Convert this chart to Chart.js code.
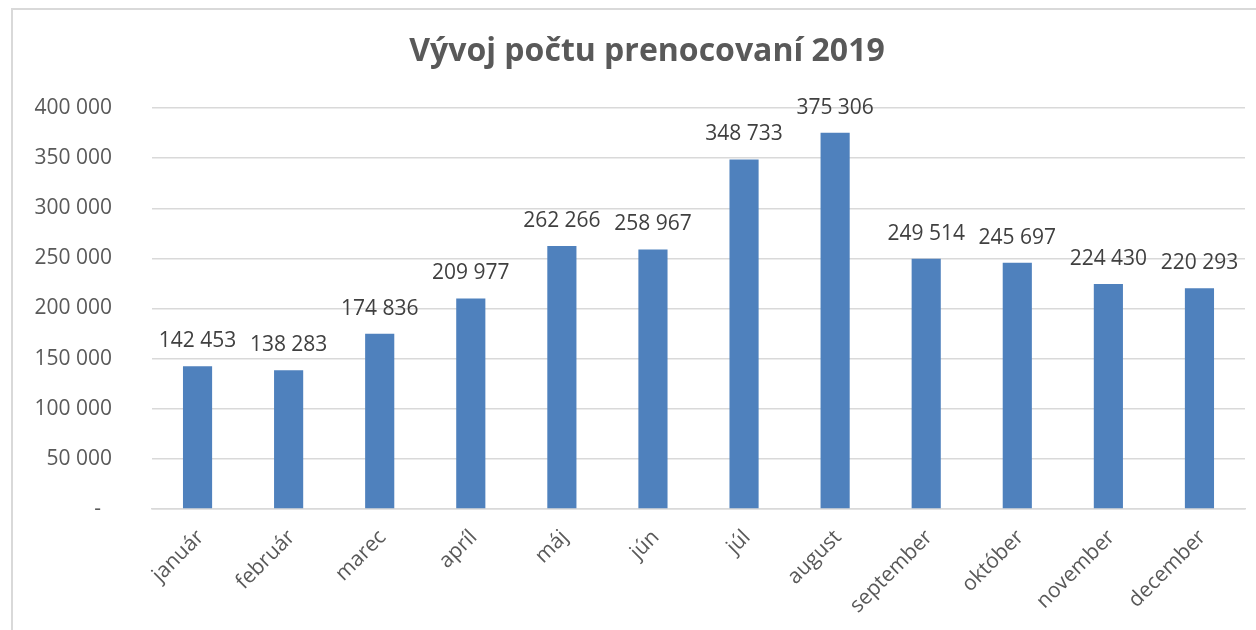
<!DOCTYPE html>
<html>
<head>
<meta charset="utf-8">
<script src="https://cdn.jsdelivr.net/npm/chart.js@4/dist/chart.umd.min.js"></script>
<style>
  html, body { margin: 0; padding: 0; background: #fff; }
  #wrap { position: relative; width: 1256px; height: 630px; }
  #frame {
    position: absolute; left: 11px; top: 8px; right: -4px; bottom: -4px;
    border-left: 2px solid #d9d9d9; border-top: 2px solid #d9d9d9;
    pointer-events: none;
  }
</style>
</head>
<body>
<div id="wrap">
  <canvas id="chart" width="1256" height="630"></canvas>
  <div id="frame"></div>
</div>
<script>
// dáta z grafu
const months = ['január', 'február', 'marec', 'apríl', 'máj', 'jún', 'júl', 'august', 'september', 'október', 'november', 'december'];
const nights = [142453, 138283, 174836, 209977, 262266, 258967, 348733, 375306, 249514, 245697, 224430, 220293];
const chartTitle = 'Vývoj počtu prenocovaní 2019';

// 142453 -> "142 453"
function fmt(v) {
    return String(v).replace(/\B(?=(\d{3})+(?!\d))/g, ' ');
}

const FONT = '"Open Sans", Lato, sans-serif';

// nadpis (posunutý trochu doprava ako v Exceli)
const titlePlugin = {
    id: 'excelTitle',
    afterDraw(chart) {
        const ctx = chart.ctx;
        ctx.save();
        ctx.font = 'bold 32px ' + FONT;
        ctx.fillStyle = '#595959';
        ctx.textAlign = 'center';
        ctx.textBaseline = 'middle';
        ctx.fillText(chartTitle, 647, 52);
        ctx.restore();
    }
};

// hodnoty nad stĺpcami
const barLabels = {
    id: 'barLabels',
    afterDatasetsDraw(chart) {
        const ctx = chart.ctx;
        const meta = chart.getDatasetMeta(0);
        ctx.save();
        ctx.font = '21px ' + FONT;
        ctx.fillStyle = '#404040';
        ctx.textAlign = 'center';
        ctx.textBaseline = 'alphabetic';
        meta.data.forEach((bar, i) => {
            ctx.fillText(fmt(chart.data.datasets[0].data[i]), bar.x, bar.y - 19);
        });
        ctx.restore();
    }
};

new Chart(document.getElementById('chart'), {
    type: 'bar',
    data: {
        labels: months,
        datasets: [{
            data: nights,
            backgroundColor: '#4f81bd',
            borderWidth: 0,
            categoryPercentage: 1,
            barPercentage: 0.32
        }]
    },
    options: {
        responsive: false,
        animation: false,
        layout: { padding: { left: 0, right: 11, top: 108, bottom: 0 } },
        plugins: {
            legend: { display: false },
            tooltip: { enabled: false },
            title: { display: false }
        },
        scales: {
            x: {
                grid: { display: false },
                border: { color: '#d9d9d9', width: 1.5 },
                ticks: {
                    color: '#595959',
                    font: { family: FONT, size: 21 },
                    minRotation: 45,
                    maxRotation: 45,
                    padding: 8,
                    labelOffset: 3
                },
                afterFit(scale) { scale.height = 121; }
            },
            y: {
                min: 0,
                max: 400000,
                border: { display: false },
                grid: { color: '#d9d9d9', lineWidth: 1.5, drawTicks: false },
                ticks: {
                    stepSize: 50000,
                    color: '#595959',
                    font: { family: FONT, size: 21 },
                    padding: 40,
                    callback: v => v === 0 ? '-  ' : fmt(v)
                },
                afterFit(scale) { scale.width = 152; }
            }
        }
    },
    plugins: [barLabels, titlePlugin]
});
</script>
</body>
</html>
